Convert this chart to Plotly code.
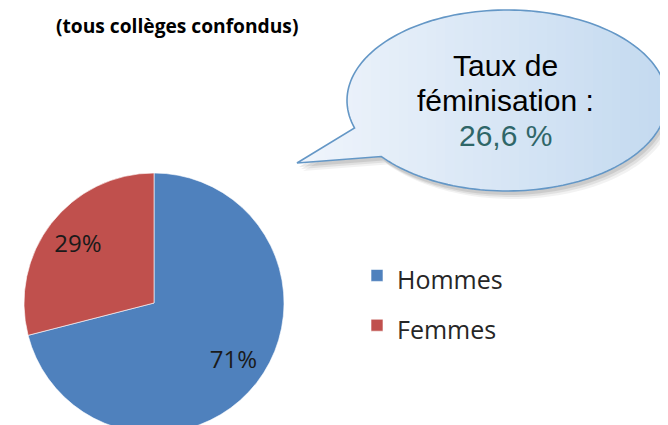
import numpy as np
import plotly.graph_objects as go

# ---- data ----
labels = ["Hommes", "Femmes"]
values = [71, 29]
colors = ["#4F81BD", "#C0504D"]
title_text = "(tous collèges confondus)"
bubble_lines = ["Taux de", "féminisation :", "26,6 %"]
bubble_colors = ["#000000", "#000000", "#2F6668"]

W, H = 668, 425
OFF = 8  # page body margin: screen = figure pixel + OFF

NB = "\u00a0"
text_templates = [NB + "<br>" + NB * 9 + "%{percent:.0%}",
                  "%{percent:.0%}" + NB * 6 + "<br>" + NB]

fig = go.Figure()

legend_labels = [f"<span style='font-size:25px'>{l}</span>" for l in labels]

# pie placed in screen pixels: centre (154, 303), radius 130
pcx, pcy, pr = 154, 303, 130
fig.add_trace(go.Pie(
    labels=legend_labels, values=values, sort=False,
    direction="clockwise", rotation=0,
    marker=dict(colors=colors, line=dict(color="rgba(255,255,255,0.6)", width=1)),
    texttemplate=text_templates, textposition="inside",
    insidetextorientation="horizontal",
    textfont=dict(family="Open Sans", size=24, color="#1a1a1a"),
    domain=dict(x=[(pcx - pr - OFF) / W, (pcx + pr - OFF) / W],
                y=[max(0.0, 1 - (pcy + pr - OFF) / H), 1 - (pcy - pr - OFF) / H]),
    hovertemplate="%{label}: %{percent}<extra></extra>",
))

# ---- speech bubble (decoration, screen pixels) ----
cx, cy, a, b = 507.0, 100.5, 160.0, 90.5
th = np.radians(np.linspace(162.3, 501.8, 170))
pts = [(cx + a * np.cos(t), cy + b * np.sin(t)) for t in th]
pts.append((297.0, 163.0))


def clip_x_ge(poly, t):
    out = []
    n = len(poly)
    for i in range(n):
        p, q = poly[i], poly[(i + 1) % n]
        pin, qin = p[0] >= t, q[0] >= t
        if pin:
            out.append(p)
        if pin != qin:
            r = (t - p[0]) / (q[0] - p[0])
            out.append((t, p[1] + r * (q[1] - p[1])))
    return out


def to_path(poly):
    return "M" + "L".join(f"{x:.2f},{y:.2f}" for x, y in poly) + "Z"


shapes = []
for dx, dy, op in [(6, 8, 0.05), (4, 6, 0.07), (2, 4, 0.09)]:
    shapes.append(dict(type="path", xref="x", yref="y",
                       path=to_path([(x + dx, y + dy) for x, y in pts]),
                       fillcolor=f"rgba(0,0,0,{op})", line=dict(width=0), layer="above"))
c0 = np.array([240, 245, 252])
c1 = np.array([196, 218, 240])
x0, x1 = 297.0, 667.0
steps = 40
for i in range(steps):
    t = x0 + (x1 - x0) * i / steps
    f = i / (steps - 1)
    col = (c0 + (c1 - c0) * f).astype(int)
    poly = clip_x_ge(pts, t)
    if len(poly) < 3:
        continue
    shapes.append(dict(type="path", xref="x", yref="y", path=to_path(poly),
                       fillcolor=f"rgb({col[0]},{col[1]},{col[2]})",
                       line=dict(width=0), layer="above"))
shapes.append(dict(type="path", xref="x", yref="y", path=to_path(pts),
                   fillcolor="rgba(0,0,0,0)", line=dict(color="#6497C6", width=1.6),
                   layer="above"))

annotations = []
for txt, yc, colr in zip(bubble_lines, [65.7, 100.7, 135.7], bubble_colors):
    annotations.append(dict(x=505, y=yc, xref="x", yref="y", text=txt, showarrow=False,
                            xanchor="center", yanchor="middle",
                            font=dict(family="Liberation Sans, Arial", size=30, color=colr)))
annotations.append(dict(x=177, y=25, xref="x", yref="y", text=f"<b>{title_text}</b>",
                        showarrow=False, xanchor="center", yanchor="middle",
                        font=dict(family="Open Sans", size=19.2, color="#000000")))

fig.update_layout(
    width=W, height=H,
    margin=dict(l=0, r=0, t=0, b=0),
    paper_bgcolor="white", plot_bgcolor="white",
    xaxis=dict(range=[OFF, W + OFF], visible=False, fixedrange=True),
    yaxis=dict(range=[H + OFF, OFF], visible=False, fixedrange=True),
    shapes=shapes,
    annotations=annotations,
    showlegend=True,
    legend=dict(x=(357 - OFF) / W, y=1 - 237.5 / H, xanchor="left", yanchor="top",
                font=dict(family="Open Sans", size=36, color="#262626"),
                bgcolor="rgba(0,0,0,0)", itemwidth=30),
)

fig.write_html("out.html")
